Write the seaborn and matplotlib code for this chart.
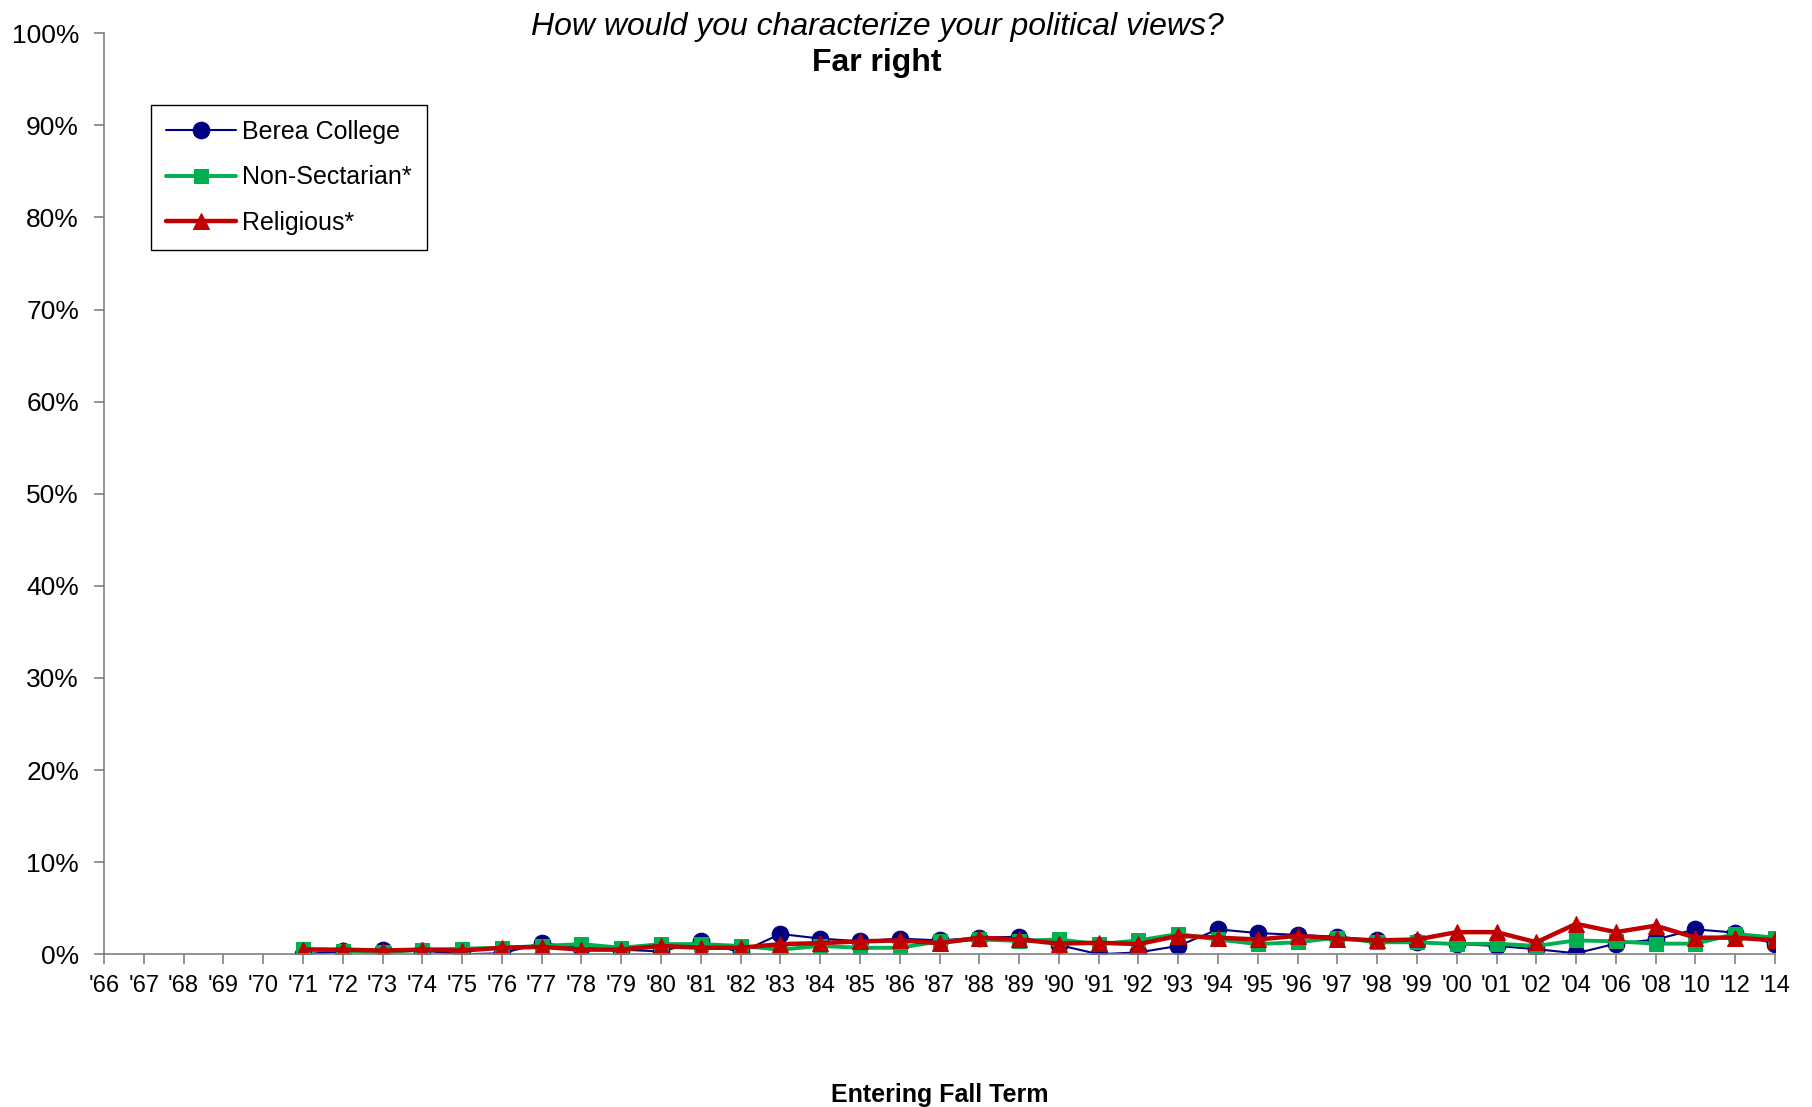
import matplotlib
matplotlib.use("Agg")
import matplotlib.pyplot as plt
import seaborn as sns
import numpy as np
import pandas as pd

years = ["'66","'67","'68","'69","'70","'71","'72","'73","'74","'75","'76","'77","'78","'79",
         "'80","'81","'82","'83","'84","'85","'86","'87","'88","'89","'90","'91","'92","'93",
         "'94","'95","'96","'97","'98","'99","'00","'01","'02","'04","'06","'08","'10","'12","'14"]
nan = np.nan
berea = [nan]*5 + [0.0,0.3,0.5,0.4,0.0,0.1,1.2,0.7,0.5,0.3,1.4,0.2,2.2,1.7,1.4,1.7,1.5,1.8,
                   1.9,1.0,0.0,0.2,0.9,2.7,2.3,2.1,1.9,1.5,1.3,1.1,0.9,0.55,0.1,1.15,1.6,2.7,2.35,1.1]
nonsect = [nan]*5 + [0.6,0.4,0.2,0.5,0.6,0.7,0.9,1.1,0.7,1.1,1.1,0.9,0.5,0.9,0.7,0.7,1.4,1.6,
                     1.45,1.6,1.1,1.5,2.2,1.6,1.1,1.3,1.8,1.3,1.3,1.1,1.15,0.9,1.5,1.4,1.15,1.15,2.2,1.8]
relig = [nan]*5 + [0.5,0.5,0.4,0.5,0.4,0.7,0.8,0.5,0.5,0.9,0.7,0.7,1.1,1.2,1.4,1.5,1.2,1.8,
                   1.6,1.15,1.25,1.1,2.0,1.8,1.6,2.0,1.7,1.5,1.6,2.4,2.4,1.3,3.3,2.4,3.1,1.8,1.8,1.5]
series_names = ["Berea College", "Non-Sectarian*", "Religious*"]
yticks = list(range(0, 101, 10))

sns.set_theme(style="white")
plt.rcParams['font.family'] = ['Liberation Sans', 'DejaVu Sans']
plt.rcParams['text.color'] = 'black'
plt.rcParams['xtick.color'] = 'black'
plt.rcParams['ytick.color'] = 'black'
plt.rcParams['axes.labelcolor'] = 'black'

df = pd.DataFrame({"pos": np.arange(len(years)), "year": years,
                   series_names[0]: berea, series_names[1]: nonsect, series_names[2]: relig})

fig = plt.figure(figsize=(18.12, 11.07), dpi=100)
ax = fig.add_axes([0.0574, 0.138, 0.9222, 0.832])

styles = {
    "Berea College": dict(color="#000080", marker="o", markersize=12, linewidth=1.5),
    "Non-Sectarian*": dict(color="#00B050", marker="s", markersize=10, linewidth=2.8),
    "Religious*": dict(color="#C00000", marker="^", markersize=11, linewidth=3.2),
}
for name in series_names:
    st = styles[name]
    sns.lineplot(data=df, x="pos", y=name, ax=ax, color=st["color"], marker=st["marker"],
                 markersize=st["markersize"], linewidth=st["linewidth"],
                 markeredgecolor=st["color"], markerfacecolor=st["color"], label=name)

ax.set_xlim(0, len(years) - 1)
ax.set_ylim(0, 100)
ax.set_xticks(df["pos"])
ax.set_xticklabels(years, fontsize=17)
ax.set_yticks(yticks)
ax.set_yticklabels([f"{v}%" for v in yticks], fontsize=19)
ax.tick_params(axis="both", direction="out", length=7, width=1.2, color="#808080",
               labelcolor="black", bottom=True, left=True)
ax.tick_params(axis="y", pad=11)
ax.tick_params(axis="x", pad=8)
for s in ["top", "right"]:
    ax.spines[s].set_visible(False)
for s in ["left", "bottom"]:
    ax.spines[s].set_color("#808080")
    ax.spines[s].set_linewidth(1.2)
ax.set_ylabel("")
ax.set_xlabel("Entering Fall Term", fontsize=18, fontweight="bold", labelpad=62)

leg = ax.legend(loc="upper left", bbox_to_anchor=(0.0281, 0.922), fontsize=18,
                frameon=True, fancybox=False, edgecolor="black", framealpha=1,
                borderaxespad=0, borderpad=0.6, handlelength=2.8, handletextpad=0.25,
                labelspacing=0.85)
leg.get_frame().set_linewidth(1.0)
for t in leg.get_texts():
    t.set_color("black")

fig.text(0.484, 0.976, "How would you characterize your political views?",
         ha="center", va="center", fontsize=23, style="italic",
         family=["Liberation Sans Narrow", "Liberation Sans", "DejaVu Sans"])
fig.text(0.484, 0.943, "Far right", ha="center", va="center", fontsize=23, fontweight="bold",
         family=["Liberation Sans Narrow", "Liberation Sans", "DejaVu Sans"])

fig.savefig("out.png", dpi=100)
